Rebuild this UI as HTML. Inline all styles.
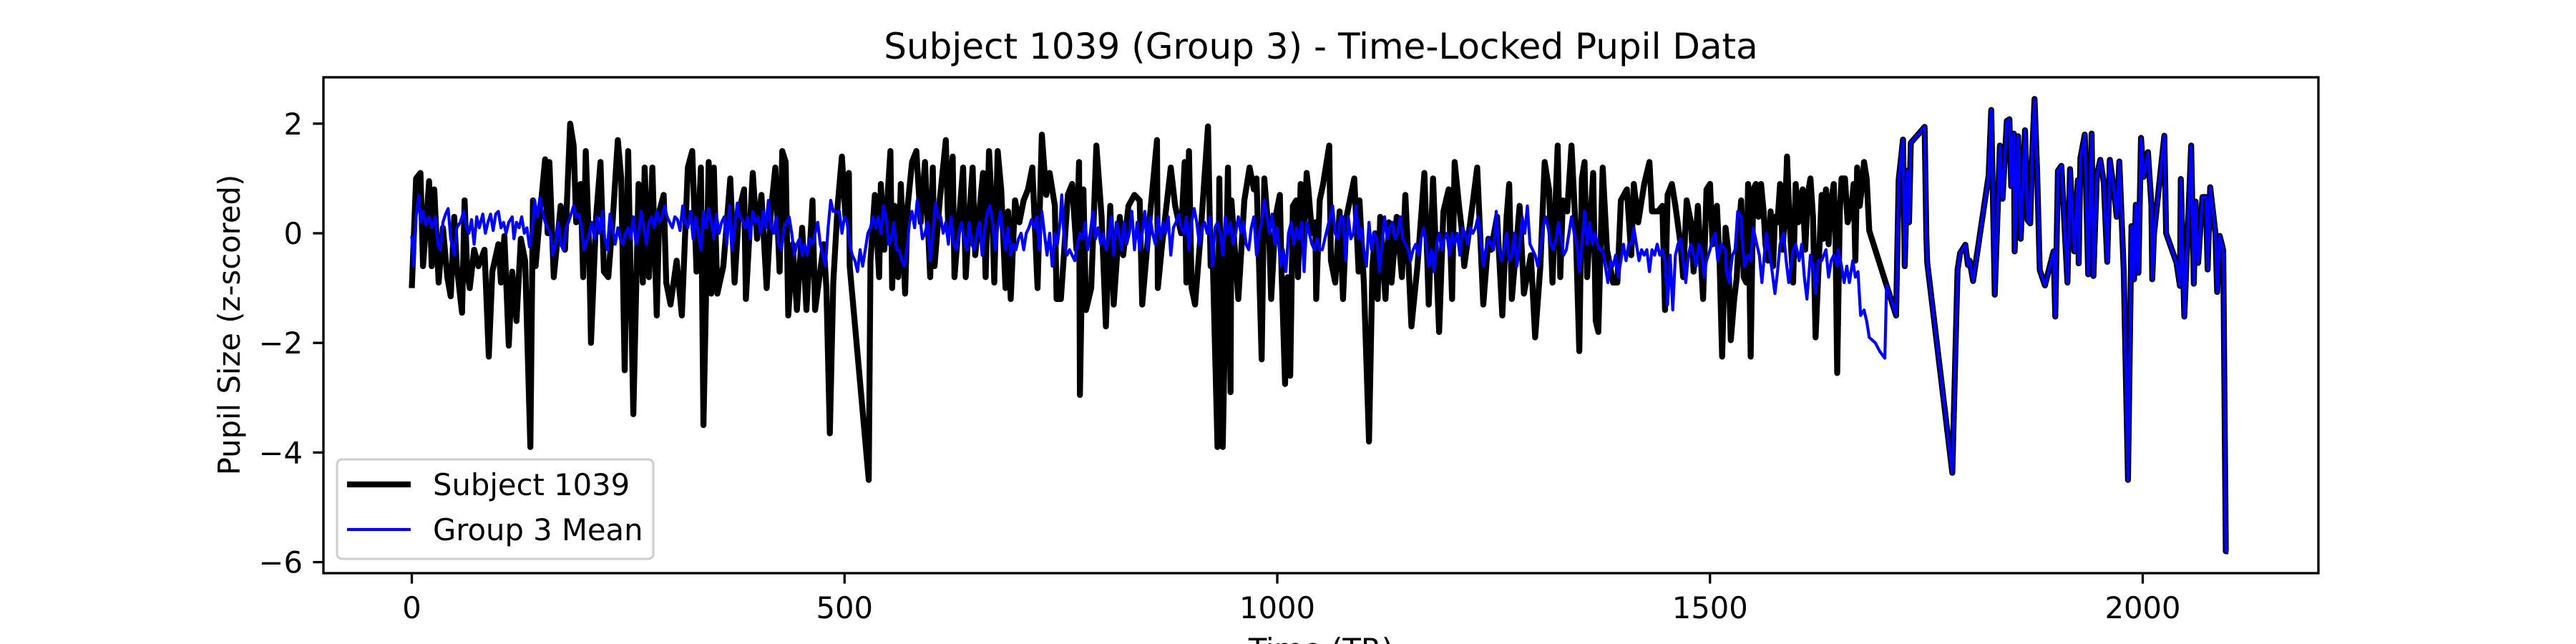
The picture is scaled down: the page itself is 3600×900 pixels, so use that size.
<!DOCTYPE html>
<html><head><meta charset="utf-8"><style>
html,body{margin:0;padding:0;background:#fff;}
svg{display:block;font-family:"DejaVu Sans","Liberation Sans",sans-serif;}
</style></head><body>
<svg id="chart" width="3600" height="900" viewBox="0 0 3600 900" xmlns="http://www.w3.org/2000/svg">
<rect x="0" y="0" width="3600" height="900" fill="#fff"/>
<defs><clipPath id="clip"><rect x="452" y="108" width="2788" height="693"/></clipPath></defs>
<text x="1846" y="82" font-size="50" text-anchor="middle">Subject 1039 (Group 3) - Time-Locked Pupil Data</text>
<text x="0" y="0" font-size="41.7" text-anchor="middle" transform="translate(335,454) rotate(-90)">Pupil Size (z-scored)</text>
<text x="1846" y="922" font-size="41.7" text-anchor="middle">Time (TR)</text>
<g id="ticks"></g>
<g id="plot" clip-path="url(#clip)"></g>
<rect x="452" y="108" width="2788" height="693" fill="none" stroke="#000" stroke-width="3.3"/>
<g>
<rect x="471" y="642" width="442" height="139" rx="7" fill="#fff" fill-opacity="0.8" stroke="#d0d0d0" stroke-width="3.3"/>
<line x1="485" y1="677" x2="574" y2="677" stroke="#000" stroke-width="8.3"/>
<text x="605" y="692" font-size="41.7">Subject 1039</text>
<line x1="485" y1="740" x2="574" y2="740" stroke="#0000ff" stroke-width="4.2"/>
<text x="605" y="755" font-size="41.7">Group 3 Mean</text>
</g>
</svg>
<script>
const xTicks = [0, 500, 1000, 1500, 2000];
const yTicks = [-6, -4, -2, 0, 2];
const subjectSeries = [[0,-1.0],[5,1.0],[10,1.1],[13,-0.6],[20,0.95],[23,-0.6],[26,0.8],[31,-0.9],[36,0.1],[41,-0.8],[45,-1.15],[49,0.3],[52,-0.6],[58,-1.45],[61,0.6],[64,-0.7],[67,-1.0],[72,-0.3],[77,-0.6],[84,-0.3],[89,-2.25],[93,-0.7],[100,-0.2],[103,-0.9],[107,-0.05],[112,-2.05],[116,-0.7],[121,-1.6],[126,-0.1],[131,-0.5],[137,-3.9],[140,0.6],[143,-0.6],[149,0.5],[154,1.35],[157,0.0],[159,1.3],[164,-0.8],[169,0.0],[172,0.5],[177,-0.3],[183,2.0],[187,1.6],[190,0.2],[195,0.9],[198,-0.8],[201,1.5],[205,-0.3],[207,-2.0],[213,0.3],[218,1.3],[222,-0.7],[227,-0.8],[232,0.2],[238,1.7],[242,1.0],[246,-2.5],[250,1.5],[256,-3.3],[262,0.9],[267,-0.9],[269,1.2],[274,-0.8],[278,1.2],[283,-1.5],[286,0.4],[291,0.7],[294,-0.9],[299,-1.3],[306,-0.5],[312,-1.5],[319,1.2],[324,1.5],[329,-0.7],[334,1.2],[337,-3.5],[343,1.3],[346,-1.1],[349,1.2],[353,-1.1],[360,-0.6],[368,1.0],[373,-0.9],[378,0.4],[384,0.8],[386,-1.2],[394,1.1],[399,-0.1],[404,0.7],[410,-1.0],[415,0.4],[420,1.2],[425,-0.7],[428,1.5],[432,1.3],[435,-1.5],[440,-0.2],[445,-1.4],[451,0.1],[456,-1.4],[463,0.6],[466,-1.4],[476,-0.2],[479,-1.0],[483,-3.65],[487,-0.9],[492,0.5],[497,1.4],[501,0.3],[505,1.1],[506,-0.6],[528,-4.5],[530,-0.5],[535,0.7],[540,-0.8],[542,0.9],[546,-0.3],[549,0.5],[553,1.5],[555,-1.0],[558,0.5],[562,-0.8],[565,0.9],[570,-1.1],[573,0.5],[578,1.3],[583,1.5],[588,0.2],[593,1.3],[599,-0.8],[602,1.2],[604,-0.6],[610,0.6],[617,1.7],[620,0.0],[625,1.4],[627,-0.8],[632,0.2],[637,1.2],[640,-0.8],[645,0.5],[648,1.2],[651,-0.4],[660,1.1],[663,-0.8],[667,1.5],[671,0.2],[673,-0.9],[677,1.5],[681,0.8],[686,-1.0],[689,0.4],[692,-1.2],[697,0.6],[702,0.2],[707,0.6],[712,0.8],[717,1.2],[723,-1.0],[728,1.8],[733,0.7],[737,1.1],[743,0.5],[745,-1.2],[750,-1.2],[753,-0.5],[758,0.7],[763,0.9],[768,-0.3],[771,1.3],[772,-2.95],[776,0.8],[779,-1.4],[785,-1.0],[791,1.6],[797,0.3],[802,-1.7],[807,0.5],[811,-1.3],[818,0.3],[822,-0.4],[828,0.5],[835,0.7],[841,0.6],[844,-1.3],[851,0.0],[861,1.7],[862,-1.0],[867,-0.2],[877,1.2],[882,0.5],[889,0.0],[893,1.3],[895,-0.9],[898,1.5],[901,-1.0],[905,-1.3],[911,-0.1],[920,1.95],[923,-0.6],[925,-0.2],[931,-3.9],[933,1.0],[937,-3.9],[943,1.2],[946,-2.9],[947,0.6],[955,-1.2],[962,0.6],[968,1.2],[973,0.8],[976,1.0],[979,-0.6],[982,-2.3],[985,1.0],[991,-0.2],[993,-1.2],[998,0.3],[1003,0.7],[1005,-0.7],[1009,-2.75],[1012,-0.8],[1015,-2.6],[1018,0.5],[1022,0.6],[1024,-0.8],[1027,0.9],[1030,-0.3],[1034,1.1],[1036,0.8],[1040,0.0],[1044,0.2],[1045,-1.2],[1049,0.6],[1053,0.9],[1060,1.6],[1062,-0.5],[1067,-0.9],[1072,0.4],[1076,-1.2],[1080,0.3],[1089,1.0],[1094,-0.7],[1095,0.6],[1100,-0.9],[1106,-3.8],[1110,-0.6],[1113,0.0],[1116,-1.2],[1119,0.3],[1125,-1.2],[1129,0.2],[1132,-0.9],[1138,0.3],[1144,-0.8],[1148,0.7],[1155,-1.7],[1162,-0.6],[1170,1.1],[1175,-1.3],[1180,1.0],[1187,-1.8],[1192,0.4],[1198,0.8],[1202,-1.2],[1205,1.3],[1210,0.5],[1213,0.1],[1216,-0.6],[1223,0.2],[1231,1.2],[1238,-1.3],[1244,-0.1],[1247,-0.3],[1254,0.3],[1260,-1.5],[1265,0.3],[1268,0.9],[1271,-1.2],[1280,0.5],[1285,-1.1],[1293,-0.4],[1298,-1.9],[1304,-0.6],[1309,1.3],[1314,0.8],[1318,-0.9],[1324,1.6],[1327,-0.8],[1330,0.6],[1335,0.4],[1340,1.6],[1345,0.0],[1349,-2.15],[1352,1.0],[1355,1.3],[1358,-0.8],[1365,1.1],[1368,-1.6],[1371,-1.8],[1376,1.2],[1381,-0.3],[1388,-0.9],[1393,-0.9],[1397,0.6],[1404,0.8],[1409,-0.4],[1412,0.9],[1417,0.2],[1424,0.9],[1430,1.3],[1433,0.4],[1440,0.4],[1445,0.5],[1448,-1.4],[1451,0.7],[1456,0.9],[1460,0.5],[1466,-0.2],[1469,-0.8],[1473,0.6],[1478,0.2],[1481,-0.7],[1486,0.5],[1492,-1.2],[1496,0.8],[1500,0.9],[1503,-0.2],[1505,0.3],[1508,0.5],[1511,-0.5],[1514,-2.25],[1518,0.1],[1521,-0.3],[1524,-1.95],[1528,-1.2],[1531,-0.8],[1534,0.2],[1536,0.6],[1539,-0.8],[1542,-0.9],[1544,0.9],[1547,-2.25],[1550,0.8],[1553,0.9],[1556,0.3],[1559,0.9],[1562,0.4],[1564,-0.2],[1567,-0.5],[1570,0.4],[1573,-0.6],[1575,0.3],[1578,0.2],[1581,0.9],[1584,-0.3],[1587,0.5],[1589,1.4],[1592,0.2],[1596,-0.9],[1599,0.9],[1602,0.2],[1604,0.6],[1607,0.8],[1610,-0.3],[1613,0.7],[1616,1.0],[1619,0.3],[1622,-1.9],[1625,-0.8],[1629,0.7],[1631,-0.1],[1634,0.8],[1637,-0.2],[1640,0.6],[1643,0.9],[1645,0.0],[1647,-2.55],[1650,0.4],[1652,1.0],[1656,1.0],[1659,0.2],[1663,0.4],[1666,0.9],[1668,-0.5],[1670,1.2],[1673,0.5],[1676,0.9],[1678,1.3],[1681,1.0],[1684,0.05]];
const groupSeries = [[0,-0.05],[2,-0.6],[5,0.3],[8,0.7],[10,0.2],[13,0.4],[16,0.15],[20,0.3],[23,0.1],[27,0.3],[30,-0.2],[33,-0.3],[36,0.2],[39,0.35],[42,0.45],[45,-0.1],[49,-0.4],[52,0.1],[56,0.2],[60,0.4],[63,0.1],[66,0.0],[69,0.25],[72,-0.2],[75,0.3],[78,0.1],[82,0.35],[85,0.0],[88,0.2],[91,0.35],[94,0.05],[97,0.35],[100,0.4],[103,0.1],[106,0.2],[109,0.0],[112,0.2],[116,0.3],[118,-0.1],[121,0.2],[124,0.1],[127,0.3],[130,0.0],[133,0.1],[136,-0.25],[139,0.05],[142,0.6],[145,0.3],[148,0.65],[151,0.4],[154,0.2],[157,0.1],[160,0.0],[163,-0.4],[166,-0.2],[169,0.2],[172,-0.2],[175,-0.3],[178,0.1],[181,0.2],[184,0.35],[187,0.5],[190,0.3],[193,0.35],[196,0.1],[199,-0.3],[202,-0.15],[205,0.0],[208,0.2],[211,-0.1],[214,0.3],[217,0.0],[220,0.4],[223,-0.1],[226,-0.3],[229,0.35],[232,0.1],[235,-0.2],[238,0.1],[241,-0.1],[244,-0.2],[247,0.0],[250,0.1],[253,-0.1],[256,0.3],[259,-0.2],[262,0.0],[265,0.4],[268,0.1],[271,-0.2],[274,0.2],[277,0.3],[280,0.1],[283,0.4],[286,0.2],[289,0.3],[292,0.5],[295,0.3],[298,0.2],[301,0.1],[304,0.3],[307,0.25],[310,0.05],[313,0.5],[316,0.2],[319,0.1],[322,0.4],[325,-0.1],[328,0.3],[331,0.0],[334,-0.3],[337,0.4],[340,0.1],[343,0.45],[346,0.2],[349,-0.1],[352,0.35],[355,0.0],[358,0.2],[361,0.3],[364,-0.2],[367,0.5],[370,-0.3],[373,0.1],[376,0.55],[379,0.3],[382,0.25],[385,0.1],[388,0.3],[391,-0.1],[394,0.4],[397,0.2],[400,0.3],[403,0.0],[406,0.4],[409,0.1],[412,0.6],[415,0.1],[418,0.0],[421,0.3],[424,-0.2],[427,-0.3],[430,0.1],[433,0.2],[436,0.3],[439,0.0],[442,-0.4],[445,-0.2],[448,-0.1],[451,-0.4],[454,-0.2],[457,-0.4],[460,-0.1],[463,-0.2],[466,0.0],[469,0.2],[472,-0.2],[475,-0.4],[478,-0.6],[481,0.1],[484,0.6],[487,0.4],[490,0.4],[494,0.4],[497,0.0],[500,0.3],[503,0.2],[506,-0.2],[509,-0.4],[512,-0.5],[515,-0.7],[518,-0.3],[521,-0.6],[524,-0.3],[527,0.0],[530,0.1],[533,0.3],[536,0.1],[539,0.3],[542,0.0],[545,0.5],[548,0.3],[551,-0.2],[554,-0.1],[557,0.2],[560,-0.3],[563,-0.3],[566,-0.5],[569,-0.6],[572,-0.3],[575,0.2],[578,0.4],[581,0.1],[584,0.6],[587,0.3],[590,-0.1],[593,0.0],[596,0.2],[599,-0.5],[602,0.0],[605,0.55],[608,0.3],[611,0.3],[614,0.0],[617,0.2],[620,-0.2],[623,0.3],[626,-0.2],[629,-0.3],[632,0.0],[635,0.2],[638,-0.1],[641,-0.3],[644,0.2],[647,-0.2],[650,-0.3],[653,0.0],[656,0.2],[659,-0.4],[662,0.1],[665,0.4],[668,0.5],[671,0.2],[674,-0.3],[677,0.1],[680,0.4],[683,0.0],[686,-0.3],[689,0.1],[692,-0.4],[695,-0.2],[698,-0.3],[701,-0.1],[704,0.0],[707,-0.3],[710,0.0],[713,0.1],[716,0.25],[719,0.1],[722,0.3],[725,-0.3],[728,0.4],[731,0.0],[734,-0.4],[737,0.0],[740,-0.6],[743,0.0],[746,-0.2],[749,0.2],[751,0.7],[754,-0.2],[757,-0.4],[760,-0.3],[763,-0.4],[766,-0.5],[769,-0.2],[772,0.0],[775,-0.1],[778,0.2],[781,-0.3],[784,0.0],[787,0.4],[790,-0.1],[793,0.1],[796,-0.2],[799,0.0],[802,-0.3],[805,-0.1],[808,0.3],[811,-0.4],[814,0.2],[817,0.0],[820,-0.3],[823,0.2],[826,-0.2],[829,0.0],[832,0.4],[835,-0.3],[838,0.2],[841,-0.3],[844,0.0],[847,0.4],[850,-0.3],[853,0.3],[856,0.0],[859,-0.2],[862,0.3],[865,-0.1],[868,0.2],[871,0.0],[874,0.3],[877,-0.4],[880,0.1],[883,0.2],[886,0.35],[889,0.1],[892,0.0],[895,0.3],[898,-0.3],[901,0.2],[904,0.45],[907,0.2],[910,-0.2],[913,0.1],[916,0.2],[919,0.0],[922,0.3],[925,-0.6],[928,0.1],[931,0.2],[934,0.0],[937,-0.4],[940,0.3],[943,0.0],[946,0.2],[949,-0.2],[952,0.0],[955,0.3],[958,0.0],[961,0.2],[964,-0.2],[967,-0.3],[970,0.1],[973,0.3],[976,-0.4],[979,0.0],[982,0.2],[985,0.6],[988,0.3],[991,0.0],[994,0.35],[997,-0.2],[1000,0.1],[1004,-0.6],[1007,-0.3],[1010,-0.7],[1013,0.0],[1016,0.2],[1019,-0.2],[1022,0.1],[1025,-0.1],[1028,0.2],[1031,-0.7],[1034,0.2],[1037,0.0],[1040,-0.2],[1043,-0.3],[1046,-0.1],[1049,-0.3],[1052,-0.3],[1055,-0.1],[1058,0.1],[1061,0.3],[1064,0.5],[1067,0.0],[1070,-0.1],[1073,0.3],[1076,0.3],[1079,-0.5],[1082,0.3],[1085,-0.1],[1088,0.0],[1091,0.5],[1094,-0.1],[1097,0.1],[1100,-0.3],[1103,-0.6],[1106,0.2],[1109,-0.3],[1112,0.0],[1115,-0.1],[1118,-0.7],[1121,-0.2],[1124,0.3],[1127,-0.1],[1130,0.1],[1133,0.2],[1136,-0.1],[1139,0.0],[1142,0.3],[1145,-0.1],[1148,-0.2],[1151,-0.3],[1154,-0.5],[1157,-0.3],[1160,-0.2],[1163,-0.4],[1166,-0.1],[1169,0.1],[1172,-0.2],[1175,-0.6],[1178,-0.3],[1181,-0.7],[1184,-0.2],[1187,0.0],[1190,-0.3],[1193,-0.1],[1196,0.0],[1199,-0.4],[1202,0.0],[1205,-0.2],[1208,0.0],[1211,-0.4],[1214,0.1],[1217,0.0],[1220,-0.2],[1223,0.1],[1226,0.0],[1229,0.1],[1232,0.3],[1235,-0.1],[1238,-0.6],[1241,-0.3],[1244,-0.1],[1247,-0.2],[1250,-0.3],[1253,0.4],[1256,-0.3],[1259,-0.5],[1262,-0.3],[1265,0.0],[1268,-0.5],[1271,-0.4],[1274,0.0],[1277,-0.6],[1280,-0.2],[1283,0.3],[1286,0.0],[1289,0.5],[1292,-0.2],[1295,-0.3],[1298,-0.4],[1301,-0.6],[1304,-0.3],[1307,0.1],[1310,0.3],[1313,0.1],[1316,-0.2],[1319,-0.3],[1322,-0.1],[1325,0.2],[1328,-0.1],[1331,-0.4],[1334,-0.3],[1337,0.0],[1340,0.3],[1343,0.0],[1346,-0.2],[1349,-0.7],[1352,-0.2],[1355,0.4],[1358,-0.2],[1361,0.2],[1364,-0.2],[1367,0.0],[1370,-0.2],[1373,-0.3],[1376,-0.3],[1379,-0.6],[1382,-0.9],[1385,-0.5],[1388,-0.6],[1391,-0.4],[1394,-0.8],[1397,-0.5],[1400,-0.2],[1403,-0.5],[1406,-0.2],[1409,-0.2],[1412,0.1],[1415,-0.2],[1418,-0.5],[1421,-0.3],[1424,-0.4],[1427,-0.3],[1430,-0.7],[1433,-0.3],[1436,-0.4],[1439,-0.2],[1442,-0.4],[1445,-0.3],[1448,-0.5],[1451,-1.3],[1454,-0.4],[1457,-1.4],[1460,-0.4],[1463,-0.2],[1466,-0.1],[1469,-0.5],[1472,-0.9],[1475,-0.4],[1478,-0.2],[1481,-0.4],[1484,-0.6],[1487,-0.2],[1490,-0.3],[1493,-0.8],[1496,-0.5],[1500,-0.3],[1503,-0.1],[1506,0.0],[1509,-0.5],[1513,-0.2],[1518,-0.3],[1519,-0.7],[1522,-0.9],[1526,-0.4],[1529,-0.3],[1532,0.4],[1536,0.3],[1537,-0.1],[1540,-0.6],[1544,-0.4],[1547,-0.5],[1550,0.1],[1554,-0.2],[1557,-0.4],[1560,-0.9],[1565,0.0],[1568,-0.3],[1571,-0.6],[1575,-1.1],[1578,-0.7],[1581,-0.2],[1585,0.0],[1588,-0.5],[1591,-0.9],[1596,-0.3],[1599,-0.2],[1603,-0.5],[1606,-0.2],[1609,-0.8],[1612,-1.2],[1616,-0.4],[1619,-0.6],[1622,-1.1],[1625,-0.5],[1629,-0.5],[1634,-0.3],[1637,-0.8],[1640,-0.5],[1643,-0.4],[1647,-0.6],[1648,-0.3],[1652,-0.6],[1655,-0.9],[1658,-0.6],[1661,-0.9],[1665,-0.5],[1668,-0.8],[1671,-0.7],[1674,-1.5],[1678,-1.4],[1681,-1.6],[1684,-1.9],[1691,-2.0],[1696,-2.15],[1702,-2.28]];
const sharedTail = [[1704,-0.95],[1715,-1.5],[1718,0.97],[1723,1.71],[1725,-0.6],[1728,1.14],[1730,0.2],[1732,1.65],[1748,1.94],[1750,-0.05],[1751,-0.53],[1780,-4.37],[1786,-0.67],[1789,-0.36],[1795,-0.21],[1798,-0.58],[1800,-0.5],[1804,-0.87],[1822,1.06],[1825,2.25],[1829,-1.12],[1835,1.6],[1838,0.63],[1843,2.05],[1846,2.08],[1848,0.86],[1851,1.82],[1852,-0.33],[1856,1.77],[1859,-0.1],[1864,1.88],[1867,0.24],[1870,0.18],[1872,1.34],[1875,2.45],[1878,1.14],[1881,-0.67],[1887,-0.95],[1897,-0.33],[1899,-1.52],[1902,1.14],[1906,1.23],[1908,0.63],[1913,-0.9],[1916,1.17],[1921,-0.33],[1925,0.97],[1926,-0.55],[1928,1.37],[1933,1.8],[1937,-0.75],[1941,1.82],[1943,-0.78],[1947,1.06],[1951,1.34],[1955,0.92],[1959,-0.52],[1962,1.34],[1967,0.75],[1970,0.3],[1973,1.31],[1978,-0.67],[1983,-4.5],[1987,0.13],[1990,-0.84],[1992,0.52],[1995,-0.72],[1998,1.74],[2001,1.03],[2006,1.48],[2010,0.52],[2011,-0.84],[2013,-0.02],[2025,1.78],[2027,0.0],[2039,-0.54],[2043,-0.96],[2044,0.99],[2048,-1.52],[2056,1.6],[2059,-0.92],[2061,0.58],[2064,-0.54],[2069,0.66],[2073,0.66],[2075,-0.66],[2078,0.84],[2084,0.0],[2086,-1.07],[2089,-0.05],[2092,-0.24],[2093,-0.32],[2096,-5.8],[2099,-5.8]];

const X0 = 575.5, XS = 1.2095, Y0 = 326, YS = 76.6;
function sx(t){ return X0 + t*XS; }
function sy(v){ return Y0 - v*YS; }
const NS = 'http://www.w3.org/2000/svg';
const plot = document.getElementById('plot');
const ticks = document.getElementById('ticks');

function pathFrom(pts){ return pts.map((p,i)=>(i?'L':'M')+sx(p[0]).toFixed(1)+','+sy(p[1]).toFixed(1)).join(''); }

const subjPath = document.createElementNS(NS,'path');


subjPath.setAttribute('d', pathFrom(subjectSeries.concat(sharedTail)));
subjPath.setAttribute('fill','none'); subjPath.setAttribute('stroke','#000');
subjPath.setAttribute('stroke-width','8.3'); subjPath.setAttribute('stroke-linejoin','round');
plot.appendChild(subjPath);

const grpPath = document.createElementNS(NS,'path');


grpPath.setAttribute('d', pathFrom(groupSeries.concat(sharedTail)));
grpPath.setAttribute('fill','none'); grpPath.setAttribute('stroke','#0000ff');
grpPath.setAttribute('stroke-width','4.2'); grpPath.setAttribute('stroke-linejoin','round');
plot.appendChild(grpPath);

xTicks.forEach(t=>{
  const x = sx(t);
  const l = document.createElementNS(NS,'line');
  
  
  l.setAttribute('x1',x); l.setAttribute('x2',x); l.setAttribute('y1',801); l.setAttribute('y2',815.6);
  l.setAttribute('stroke','#000'); l.setAttribute('stroke-width','3.3');
  ticks.appendChild(l);
  const tx = document.createElementNS(NS,'text');
  
  
  tx.setAttribute('x',x); tx.setAttribute('y',864); tx.setAttribute('font-size','41.7'); tx.setAttribute('text-anchor','middle');
  tx.textContent = String(t);
  ticks.appendChild(tx);
});
yTicks.forEach(v=>{
  const y = sy(v);
  const l = document.createElementNS(NS,'line');
  
  
  l.setAttribute('x1',437.4); l.setAttribute('x2',452); l.setAttribute('y1',y); l.setAttribute('y2',y);
  l.setAttribute('stroke','#000'); l.setAttribute('stroke-width','3.3');
  ticks.appendChild(l);
  const tx = document.createElementNS(NS,'text');
  
  
  tx.setAttribute('x',423); tx.setAttribute('y',y+15); tx.setAttribute('font-size','41.7'); tx.setAttribute('text-anchor','end');
  tx.textContent = (v<0?'\u2212':'') + Math.abs(v);
  ticks.appendChild(tx);
});
</script>
</body></html>
